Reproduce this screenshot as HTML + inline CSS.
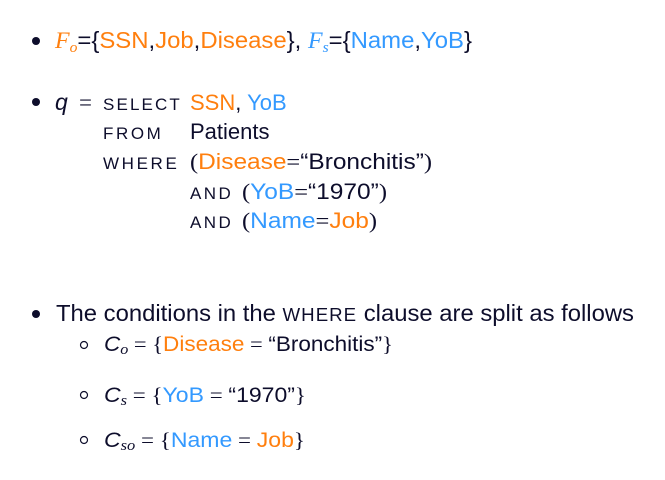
<!DOCTYPE html>
<html><head><meta charset="utf-8"><style>
html,body{margin:0;padding:0;background:#fff;}
svg{display:block;}
text{font-family:"Liberation Sans",sans-serif;fill:#0d0d2b;}
.o{fill:#ff7f0e}.b{fill:#3399ff}
.sc{font-size:17px;letter-spacing:1.2px}
.m{font-family:"Liberation Serif",serif}
</style></head><body>
<svg width="665" height="480" viewBox="0 0 665 480" xmlns="http://www.w3.org/2000/svg">
<circle cx="36" cy="41" r="4" fill="#0d0d2b"/>
<text x="55" y="48" font-size="23" textLength="417" lengthAdjust="spacingAndGlyphs"><tspan class="o m" font-style="italic">F<tspan font-size="15" dy="4">o</tspan></tspan><tspan dy="-4">={</tspan><tspan class="o">SSN</tspan>,<tspan class="o">Job</tspan>,<tspan class="o">Disease</tspan>}, <tspan class="b m" font-style="italic">F<tspan font-size="15" dy="4">s</tspan></tspan><tspan dy="-4">={</tspan><tspan class="b">Name</tspan>,<tspan class="b">YoB</tspan>}</text>

<circle cx="36" cy="102" r="4" fill="#0d0d2b"/>
<text x="55" y="110" font-size="23" font-style="italic">q</text>
<text x="79" y="110" font-size="23" class="m">=</text>
<text x="103" y="110" class="sc" textLength="78">SELECT</text>
<text x="190" y="110" font-size="22"><tspan class="o">SSN</tspan>, <tspan class="b">YoB</tspan></text>
<text x="103" y="139" class="sc" textLength="59">FROM</text>
<text x="190" y="139" font-size="22">Patients</text>
<text x="103" y="169" class="sc" textLength="75">WHERE</text>
<text x="190" y="169" font-size="22" textLength="242" lengthAdjust="spacingAndGlyphs"><tspan class="m">(</tspan><tspan class="o">Disease</tspan><tspan class="m">=</tspan>“Bronchitis”<tspan class="m">)</tspan></text>
<text x="190" y="199" class="sc" textLength="42">AND</text>
<text x="242" y="199" font-size="22" textLength="145" lengthAdjust="spacingAndGlyphs"><tspan class="m">(</tspan><tspan class="b">YoB</tspan><tspan class="m">=</tspan>“1970”<tspan class="m">)</tspan></text>
<text x="190" y="228" class="sc" textLength="42">AND</text>
<text x="242" y="228" font-size="22" textLength="135" lengthAdjust="spacingAndGlyphs"><tspan class="m">(</tspan><tspan class="b">Name</tspan><tspan class="m">=</tspan><tspan class="o">Job</tspan><tspan class="m">)</tspan></text>

<circle cx="36" cy="314" r="4" fill="#0d0d2b"/>
<text x="56" y="321" font-size="23" textLength="578" lengthAdjust="spacingAndGlyphs">The conditions in the <tspan font-size="18" letter-spacing="1">WHERE</tspan> clause are split as follows</text>

<circle cx="84" cy="345" r="3.5" fill="none" stroke="#0d0d2b" stroke-width="1.2"/>
<text x="104" y="351" font-size="21" textLength="289" lengthAdjust="spacingAndGlyphs"><tspan font-style="italic">C</tspan><tspan class="m" font-style="italic" font-size="15" dy="3">o</tspan><tspan dy="-3" class="m"> = {</tspan><tspan class="o">Disease</tspan><tspan class="m"> = </tspan>“Bronchitis”<tspan class="m">}</tspan></text>

<circle cx="84" cy="395" r="3.5" fill="none" stroke="#0d0d2b" stroke-width="1.2"/>
<text x="104" y="402" font-size="21" textLength="202" lengthAdjust="spacingAndGlyphs"><tspan font-style="italic">C</tspan><tspan class="m" font-style="italic" font-size="15" dy="3">s</tspan><tspan dy="-3" class="m"> = {</tspan><tspan class="b">YoB</tspan><tspan class="m"> = </tspan>“1970”<tspan class="m">}</tspan></text>

<circle cx="84" cy="440" r="3.5" fill="none" stroke="#0d0d2b" stroke-width="1.2"/>
<text x="104" y="447" font-size="21" textLength="201" lengthAdjust="spacingAndGlyphs"><tspan font-style="italic">C</tspan><tspan class="m" font-style="italic" font-size="15" dy="3">so</tspan><tspan dy="-3" class="m"> = {</tspan><tspan class="b">Name</tspan><tspan class="m"> = </tspan><tspan class="o">Job</tspan><tspan class="m">}</tspan></text>
</svg>
</body></html>
